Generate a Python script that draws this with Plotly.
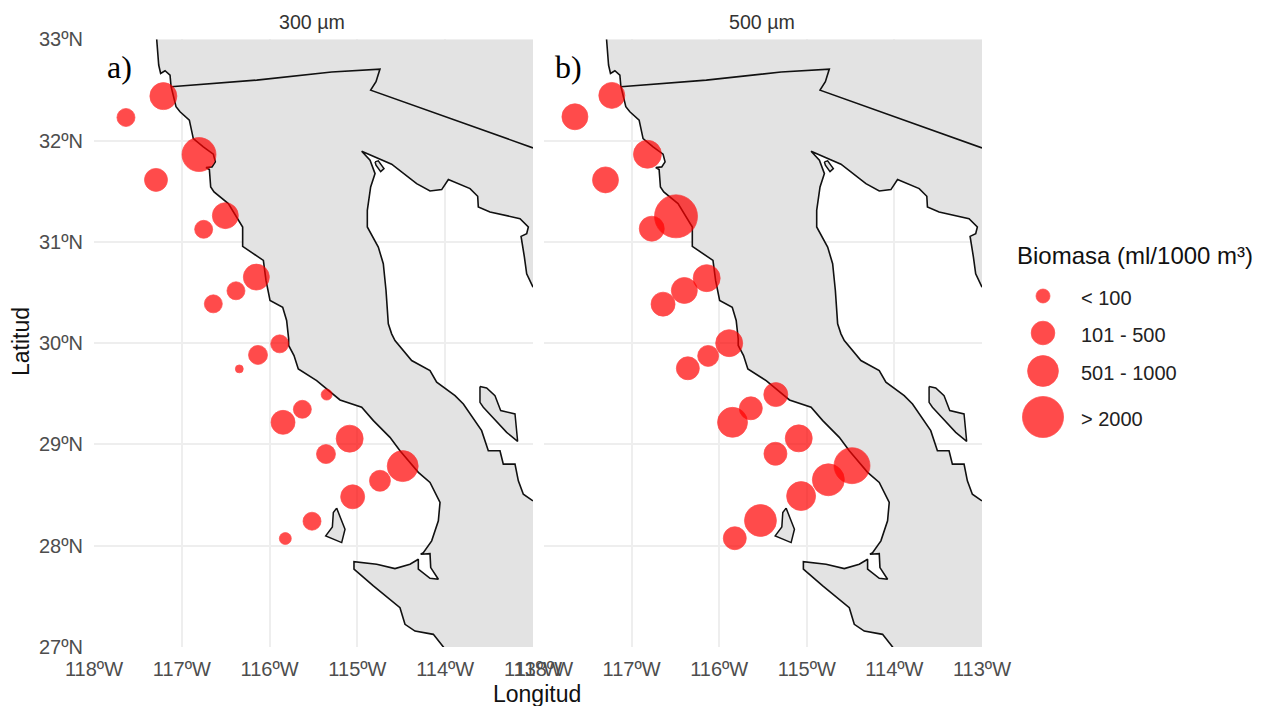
import plotly.graph_objects as go

# ---------- data ----------
x_ticks = [-118, -117, -116, -115, -114, -113]
x_tick_labels = ["118ºW", "117ºW", "116ºW", "115ºW", "114ºW", "113ºW"]
y_ticks = [27, 28, 29, 30, 31, 32, 33]
y_tick_labels = ["27ºN", "28ºN", "29ºN", "30ºN", "31ºN", "32ºN", "33ºN"]

west_lon = [-117.286, -117.263, -117.241, -117.191, -117.134, -117.123, -117.066, -117.02, -116.914, -116.888,
            -116.869, -116.755, -116.641, -116.618, -116.656, -116.724, -116.686, -116.671, -116.633, -116.47,
            -116.356, -116.307, -116.307, -116.071, -116.041, -115.995, -115.851, -115.806, -115.783, -115.783,
            -115.722, -115.673, -115.464, -115.274, -115.198, -114.951, -114.818, -114.629, -114.515, -114.306,
            -114.173, -114.059, -114.078, -114.154, -114.249, -114.279, -114.173, -114.165, -114.078, -114.173,
            -114.306, -114.306, -114.401, -114.572, -114.78, -115.039, -115.039, -114.818, -114.515, -114.458,
            -114.344, -114.135, -114.014]
west_lat = [33.0, 32.746, 32.663, 32.69, 32.647, 32.538, 32.334, 32.284, 32.202, 32.103,
            32.02, 31.938, 31.866, 31.79, 31.74, 31.734, 31.714, 31.542, 31.493, 31.378,
            31.213, 31.147, 30.955, 30.817, 30.619, 30.421, 30.355, 30.224, 30.042, 29.977,
            29.878, 29.746, 29.63, 29.498, 29.439, 29.367, 29.235, 29.07, 28.938, 28.724,
            28.625, 28.427, 28.246, 28.048, 27.932, 27.916, 27.922, 27.784, 27.669, 27.678,
            27.768, 27.866, 27.817, 27.774, 27.817, 27.843, 27.768, 27.603, 27.388, 27.224,
            27.157, 27.125, 26.993]

east_lon = [-113.0, -113.11, -113.167, -113.205, -113.338, -113.376, -113.509, -113.585, -113.793, -113.888,
            -114.097, -114.173, -114.382, -114.572, -114.61, -114.648, -114.674, -114.705, -114.762, -114.887,
            -114.887, -114.849, -114.799, -114.856, -114.951, -114.61, -114.325, -114.173, -114.04, -113.964,
            -113.717, -113.63, -113.623, -113.49, -113.148, -113.053, -113.072, -113.136, -113.098, -113.072,
            -113.0]
east_lat = [28.443, 28.509, 28.641, 28.806, 28.806, 28.938, 28.938, 29.136, 29.399, 29.482,
            29.614, 29.729, 29.828, 30.026, 30.092, 30.191, 30.52, 30.784, 30.949, 31.147,
            31.312, 31.542, 31.674, 31.806, 31.895, 31.767, 31.575, 31.503, 31.516, 31.615,
            31.526, 31.45, 31.345, 31.295, 31.229, 31.147, 31.081, 31.054, 30.85, 30.685,
            30.553]

border_lon = [-117.123, -116.147, -115.293, -114.743, -114.788, -114.849, -113.0]
border_lat = [32.531, 32.597, 32.677, 32.706, 32.581, 32.498, 31.928]

cedros_lon = [-115.236, -115.19, -115.141, -115.179, -115.361, -115.285, -115.274, -115.236]
cedros_lat = [28.371, 28.279, 28.163, 28.031, 28.097, 28.186, 28.328, 28.371]
guarda_lon = [-113.604, -113.528, -113.433, -113.368, -113.205, -113.175, -113.3, -113.566, -113.604, -113.604]
guarda_lat = [29.571, 29.558, 29.482, 29.334, 29.301, 29.03, 29.119, 29.367, 29.416, 29.571]
montague_lon = [-114.799, -114.762, -114.697, -114.735, -114.788, -114.799]
montague_lat = [31.79, 31.8, 31.724, 31.694, 31.757, 31.79]

a_lon = [-117.21, -117.636, -116.804, -117.294, -116.504, -116.751, -116.151, -116.383, -116.641, -115.885, -116.132,
         -116.345, -115.35, -115.627, -115.847, -115.088, -115.358, -114.484, -114.743, -115.054, -115.517, -115.821]
a_lat = [32.439, 32.228, 31.862, 31.612, 31.259, 31.124, 30.652, 30.517, 30.388, 29.993, 29.884,
         29.746, 29.492, 29.347, 29.218, 29.057, 28.905, 28.786, 28.641, 28.483, 28.242, 28.071]
a_biomass = [711, 229, 1270, 464, 644, 229, 644, 229, 229, 229, 269,
             5, 38, 229, 521, 711, 269, 1011, 360, 521, 229, 55]

b_lon = [-117.226, -117.647, -116.819, -117.298, -116.493, -116.77, -116.143, -116.398, -116.641, -115.886, -116.126,
         -116.358, -115.354, -115.639, -115.848, -115.092, -115.358, -114.484, -114.754, -115.065, -115.529, -115.822]
b_lat = [32.446, 32.235, 31.865, 31.612, 31.252, 31.13, 30.642, 30.52, 30.385, 30.0, 29.874,
         29.752, 29.492, 29.357, 29.218, 29.06, 28.908, 28.79, 28.651, 28.49, 28.249, 28.074]
b_biomass = [644, 644, 781, 644, 2226, 581, 711, 644, 521, 711, 360,
             464, 521, 464, 931, 711, 464, 1460, 1094, 854, 1094, 464]

legend_breaks = [100, 500, 1000, 2000]
legend_labels = ["< 100", "101 - 500", "501 - 1000", "> 2000"]
panel_titles = ["300 µm", "500 µm"]
panel_tags = ["a)", "b)"]

# ---------- styling ----------
PAGE = 8              # the page's body margin
W, H = 1249, 698      # figure size inside that margin
LAND = "#e3e3e3"
GRID = "#eeeeee"
TICK = "#4d4d4d"
SANS = "Liberation Sans"


def diameter(v):
    return 6.2 + 0.78 * v ** 0.5


def px(x):
    return (x - PAGE) / W


def py(y):
    return 1 - (y - PAGE) / H


fig = go.Figure()

land_lon = west_lon + [-113.0] + east_lon + [-113.0, west_lon[0]]
land_lat = west_lat + [26.993] + east_lat + [33.0, west_lat[0]]
marker_style = dict(color="#ff0000", opacity=0.7, line=dict(width=0.7, color="#ff0000"))

for ax, (lon, lat, bio) in zip(["", "2"], [(a_lon, a_lat, a_biomass), (b_lon, b_lat, b_biomass)]):
    xa, ya = "x" + ax, "y"
    fig.add_trace(go.Scatter(x=land_lon, y=land_lat, mode="lines", fill="toself", fillcolor=LAND,
                             line=dict(width=0, color=LAND), xaxis=xa, yaxis=ya, hoverinfo="skip"))
    for lx, ly in [(cedros_lon, cedros_lat), (guarda_lon, guarda_lat), (montague_lon, montague_lat)]:
        fig.add_trace(go.Scatter(x=lx, y=ly, mode="lines", fill="toself", fillcolor=LAND,
                                 line=dict(width=1.5, color="#111111"), xaxis=xa, yaxis=ya, hoverinfo="skip"))
    for lx, ly in [(west_lon, west_lat), (east_lon, east_lat), (border_lon, border_lat)]:
        fig.add_trace(go.Scatter(x=lx, y=ly, mode="lines", line=dict(width=1.6, color="#111111"),
                                 xaxis=xa, yaxis=ya, hoverinfo="skip"))
    fig.add_trace(go.Scatter(x=lon, y=lat, mode="markers",
                             marker=dict(size=[diameter(v) for v in bio], **marker_style),
                             xaxis=xa, yaxis=ya))

# legend drawn on its own hidden axes, range equal to page pixels of that strip
legend_rows = [296, 333, 371, 417]
fig.add_trace(go.Scatter(x=[1043] * 4, y=legend_rows, mode="markers",
                         marker=dict(size=[diameter(v) for v in legend_breaks], **marker_style),
                         xaxis="x3", yaxis="y3", hoverinfo="skip"))

axis_common = dict(range=[-118, -113], tickvals=x_ticks, ticktext=x_tick_labels, showgrid=True,
                   gridcolor=GRID, gridwidth=1.6, zeroline=False, showline=False, ticks="", automargin=False,
                   ticklabelstandoff=8, tickfont=dict(family=SANS, size=20, color=TICK), tickangle=0,
                   anchor="y")

fig.update_layout(
    width=W, height=H, margin=dict(l=0, r=0, t=0, b=0), showlegend=False,
    paper_bgcolor="white", plot_bgcolor="white",
    xaxis=dict(domain=[px(94), px(533)], **axis_common),
    xaxis2=dict(domain=[px(544), px(982)], **axis_common),
    yaxis=dict(domain=[py(647), py(39.3)], range=[27, 33], tickvals=y_ticks, ticktext=y_tick_labels,
               showgrid=True, gridcolor=GRID, gridwidth=1.6, zeroline=False, showline=False, ticks="",
               automargin=False, ticklabelstandoff=10, tickfont=dict(family=SANS, size=20, color=TICK)),
    xaxis3=dict(domain=[px(1000), 1], range=[1000, W + PAGE], visible=False, anchor="y3", automargin=False),
    yaxis3=dict(domain=[py(450), py(270)], range=[450, 270], visible=False, anchor="x3", automargin=False),
)

ann = []
for cx, title in zip([312, 762], panel_titles):
    ann.append(dict(x=px(cx), y=py(22), text=title, font=dict(family=SANS, size=19.6, color="#333333")))
for cx, tag in zip([120, 568], panel_tags):
    ann.append(dict(x=px(cx), y=py(67), text=tag, font=dict(family="Liberation Serif", size=32, color="black")))
ann.append(dict(x=px(537), y=py(694), text="Longitud", font=dict(family=SANS, size=23, color="#111111")))
ann.append(dict(x=px(21), y=py(342), text="Latitud", textangle=-90, font=dict(family=SANS, size=23, color="#111111")))
ann.append(dict(x=px(1135), y=py(255), text="Biomasa (ml/1000 m³)", font=dict(family=SANS, size=24, color="#111111")))
for row, lab in zip(legend_rows, legend_labels):
    ann.append(dict(x=px(1079), y=py(row + 2), text=lab, xanchor="left", font=dict(family=SANS, size=20, color="#222222")))
for a in ann:
    a.update(xref="paper", yref="paper", showarrow=False)
    a.setdefault("xanchor", "center")
    a.setdefault("yanchor", "middle")
fig.update_layout(annotations=ann)

fig.write_html("out.html")
